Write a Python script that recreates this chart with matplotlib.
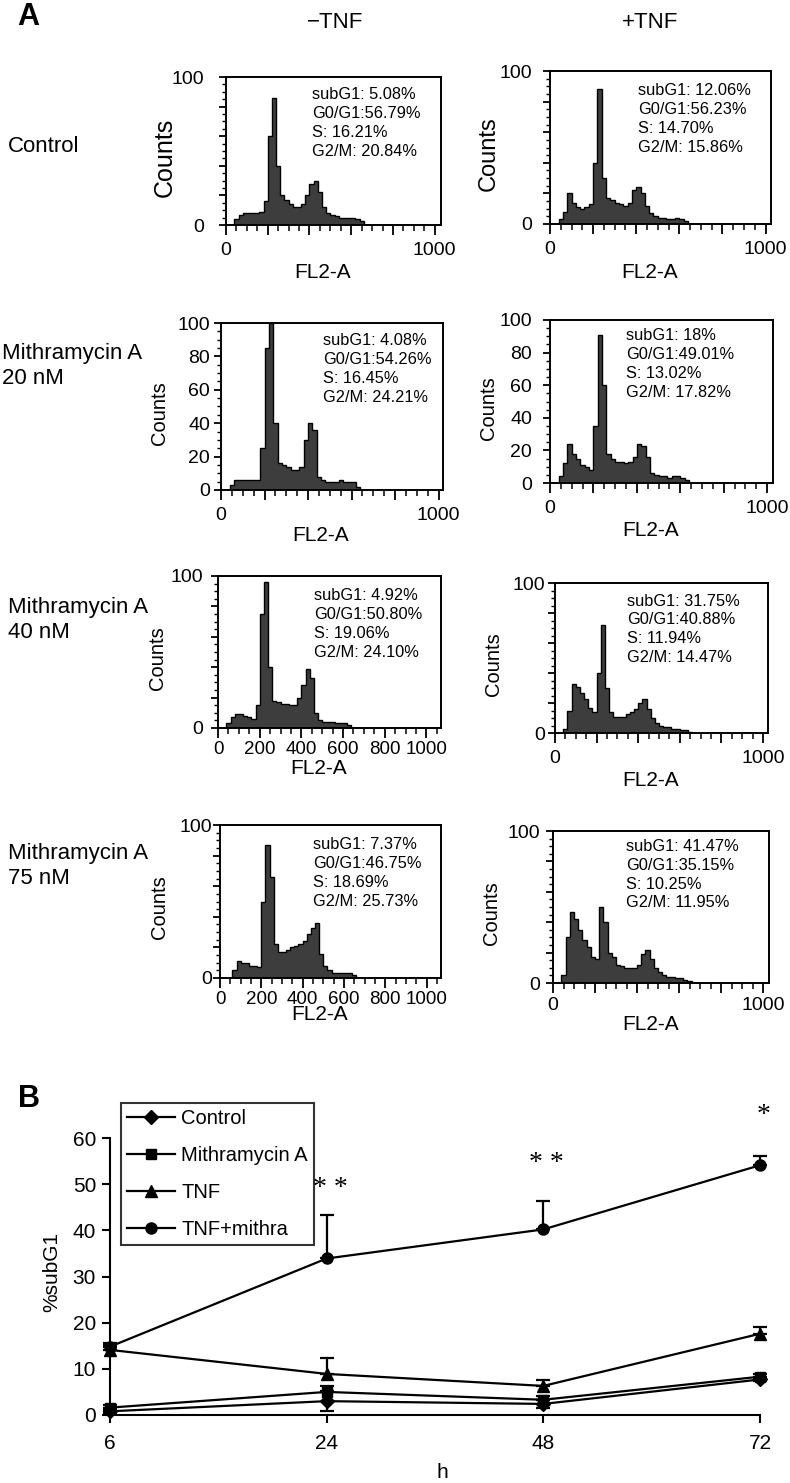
import numpy as np
import matplotlib
matplotlib.use('Agg')
import matplotlib.pyplot as plt
from matplotlib.ticker import MultipleLocator, FuncFormatter
from matplotlib.lines import Line2D

plt.rcParams['font.family'] = ['Liberation Sans', 'DejaVu Sans']

W, H = 790, 1483

# ---- panel A: DNA content histograms (counts per 20-unit FL2-A bin, 0..680) ----
bin_edges = np.arange(0, 700, 20)

ctrl_minus = [0, 0, 4, 7, 8, 8, 8, 8, 9, 16, 60, 86, 40, 20, 17, 14, 12, 12, 14, 20,
              28, 30, 22, 12, 8, 7, 6, 5, 5, 5, 5, 4, 3, 0]
ctrl_plus = [0, 0, 3, 8, 20, 14, 11, 10, 11, 13, 40, 88, 30, 17, 16, 14, 13, 12, 14, 22,
             24, 20, 12, 7, 5, 4, 4, 3, 3, 4, 3, 2, 0, 0]
m20_minus = [0, 0, 3, 6, 6, 6, 6, 6, 6, 25, 85, 100, 40, 16, 15, 14, 12, 12, 14, 30,
             40, 36, 8, 6, 5, 5, 5, 6, 5, 5, 5, 2, 0, 0]
m20_plus = [0, 0, 4, 12, 24, 18, 15, 11, 10, 8, 35, 91, 60, 18, 15, 13, 13, 12, 13, 16,
            24, 23, 16, 6, 5, 4, 4, 3, 4, 4, 3, 2, 0, 0]
m40_minus = [0, 0, 3, 7, 9, 9, 8, 7, 6, 15, 75, 96, 40, 18, 17, 16, 16, 15, 15, 20,
             28, 39, 33, 10, 5, 4, 4, 4, 3, 3, 3, 2, 0, 0]
m40_plus = [0, 0, 3, 15, 33, 31, 27, 23, 17, 14, 40, 72, 30, 14, 11, 11, 11, 13, 14, 16,
            20, 23, 16, 10, 7, 5, 4, 4, 3, 3, 2, 2, 1, 0]
m75_minus = [0, 0, 0, 5, 11, 10, 10, 8, 8, 7, 50, 87, 66, 22, 17, 17, 18, 20, 21, 22,
             24, 29, 33, 36, 16, 8, 5, 3, 3, 3, 3, 3, 2, 0]
m75_plus = [0, 0, 5, 30, 47, 42, 35, 28, 24, 17, 16, 50, 40, 20, 17, 12, 11, 10, 10, 10,
            12, 19, 22, 16, 10, 7, 5, 4, 4, 3, 3, 2, 1, 0]

stats_text = [
    'subG1: 5.08%\nG0/G1:56.79%\nS: 16.21%\nG2/M: 20.84%',
    'subG1: 12.06%\nG0/G1:56.23%\nS: 14.70%\nG2/M: 15.86%',
    'subG1: 4.08%\nG0/G1:54.26%\nS: 16.45%\nG2/M: 24.21%',
    'subG1: 18%\nG0/G1:49.01%\nS: 13.02%\nG2/M: 17.82%',
    'subG1: 4.92%\nG0/G1:50.80%\nS: 19.06%\nG2/M: 24.10%',
    'subG1: 31.75%\nG0/G1:40.88%\nS: 11.94%\nG2/M: 14.47%',
    'subG1: 7.37%\nG0/G1:46.75%\nS: 18.69%\nG2/M: 25.73%',
    'subG1: 41.47%\nG0/G1:35.15%\nS: 10.25%\nG2/M: 11.95%',
]
hist_counts = [ctrl_minus, ctrl_plus, m20_minus, m20_plus,
               m40_minus, m40_plus, m75_minus, m75_plus]

row_labels = ['Control', 'Mithramycin A\n20 nM', 'Mithramycin A\n40 nM', 'Mithramycin A\n75 nM']
col_labels = ['\u2212TNF', '+TNF']

# ---- panel B: %subG1 over time ----
hours = ['6', '24', '48', '72']
ctrl = [0.8, 3.0, 2.4, 7.7]
ctrl_err = [0.3, 2.1, 0.8, 0.4]
mith = [1.6, 5.0, 3.3, 8.3]
mith_err = [0.5, 1.3, 0.8, 0.6]
tnf = [14.1, 8.9, 6.3, 17.6]
tnf_err = [1.1, 3.5, 1.2, 1.5]
combo = [14.8, 33.9, 40.2, 54.1]
combo_err = [0.8, 9.4, 6.1, 2.0]
signif = ['', '* *', '* *', '*']


def frac(x0, x1, y0, y1):
    return [x0 / W, 1 - y1 / H, (x1 - x0) / W, (y1 - y0) / H]


fig = plt.figure(figsize=(W / 100, H / 100), dpi=100)

# layout of the 8 histogram boxes (pixels): x0, x1, y0, y1, xmax, stats x, stats y,
# all y labels, all x labels, x tick pad, x tick size, y tick pad, FL2-A offset, Counts size
layout = [
    (226, 441, 77, 225, 1030, 0.40, 0.93, False, False, 5, 14, 11, 47, 18),
    (550, 771, 71, 224, 1025, 0.40, 0.92, False, False, 5, 14, 8, 48, 17),
    (221, 443, 323, 490, 1020, 0.46, 0.94, True, False, 5, 14, 3, 46, 14.5),
    (550, 773, 320, 483, 1027, 0.34, 0.95, True, False, 5, 14, 8, 47, 14.5),
    (218, 441, 576, 728, 1070, 0.43, 0.92, False, True, 2, 13.5, 6, 40, 14.5),
    (555, 768, 583, 733, 1024, 0.34, 0.93, False, False, 5, 14, 2, 47, 14.5),
    (220, 441, 825, 978, 1070, 0.42, 0.92, False, True, 2, 13.5, 1, 37, 14.5),
    (553, 769, 831, 983, 1028, 0.34, 0.95, False, False, 3, 14, 4, 42, 14.5),
]

for counts, stats, lay in zip(hist_counts, stats_text, layout):
    x0, x1, y0, y1, xmax, tx, ty, yall, xall, pad, tsize, ypad, lab_off, csize = lay
    ax = fig.add_axes(frac(x0, x1, y0, y1))
    ax.stairs(counts, bin_edges, fill=True, color='#3d3d3d', lw=0)
    ax.stairs(counts, bin_edges, color='black', lw=1.0)
    ax.set_xlim(0, xmax)
    ax.set_ylim(0, 100)
    ax.xaxis.set_major_locator(MultipleLocator(200))
    ax.xaxis.set_minor_locator(MultipleLocator(50))
    ax.yaxis.set_major_locator(MultipleLocator(20))
    ax.yaxis.set_minor_locator(MultipleLocator(5))
    if xall:
        ax.xaxis.set_major_formatter(FuncFormatter(lambda v, p: f'{v:.0f}'))
    else:
        ax.xaxis.set_major_formatter(FuncFormatter(lambda v, p: f'{v:.0f}' if v in (0, 1000) else ''))
    if yall:
        ax.yaxis.set_major_formatter(FuncFormatter(lambda v, p: f'{v:.0f}'))
    else:
        ax.yaxis.set_major_formatter(FuncFormatter(lambda v, p: f'{v:.0f}' if v in (0, 100) else ''))
    for s in ax.spines.values():
        s.set_linewidth(1.4)
    ax.tick_params(axis='x', which='major', direction='out', length=7, width=1.3,
                   labelsize=tsize, pad=pad)
    ax.tick_params(axis='x', which='minor', direction='out', length=4, width=1.1)
    ax.tick_params(axis='y', which='major', direction='out', length=5, width=1.3,
                   labelsize=14, pad=ypad)
    ax.tick_params(axis='y', which='minor', direction='out', length=3, width=1.0)
    ax.text(tx, ty, stats, transform=ax.transAxes, ha='left', va='top',
            fontsize=11.8, linespacing=1.33)
    hpx = y1 - y0
    ax.text(0.45, -lab_off / hpx, 'FL2-A', transform=ax.transAxes,
            ha='center', va='center', fontsize=15)
    ax.text(-61 / (x1 - x0), 0.46, 'Counts', transform=ax.transAxes, rotation=90,
            ha='center', va='center', fontsize=csize)

# column and row headers
fig.text(335 / W, 1 - 23 / H, col_labels[0], ha='center', va='center', fontsize=16)
fig.text(650 / W, 1 - 23 / H, col_labels[1], ha='center', va='center', fontsize=16)
row_pos = [(8, 146), (2, 366), (8, 620), (8, 866)]
for lab, (rx, ry) in zip(row_labels, row_pos):
    fig.text(rx / W, 1 - ry / H, lab, ha='left', va='center', fontsize=16, linespacing=1.3)

fig.text(17 / W, 1 - 17 / H, 'A', ha='left', va='center', fontsize=22, fontweight='bold')
fig.text(18 / W, 1 - 1099 / H, 'B', ha='left', va='center', fontsize=22, fontweight='bold')

# ---- panel B ----
axb = fig.add_axes(frac(110, 760, 1138, 1415))
xpos = np.arange(len(hours))
series = [
    (combo, combo_err, 'o', 8, False),
    (tnf, tnf_err, '^', 9, False),
    (mith, mith_err, 's', 7.5, False),
    (ctrl, ctrl_err, 'D', 7, True),
]
for vals, err, mk, ms, both in series:
    lower = err if both else [0] * len(err)
    cont = axb.errorbar(xpos, vals, yerr=[lower, err], fmt='-', marker=mk, ms=ms,
                        color='black', lw=1.6, elinewidth=1.6, capsize=5, capthick=1.6)
    cont[0].set_clip_on(False)
    for a in cont[1] + cont[2]:
        a.set_clip_on(False)

axb.set_xlim(0, 3)
axb.set_ylim(0, 60)
axb.set_xticks(xpos)
axb.set_xticklabels(hours)
axb.yaxis.set_major_locator(MultipleLocator(10))
axb.spines['top'].set_visible(False)
axb.spines['right'].set_visible(False)
for s in ('left', 'bottom'):
    axb.spines[s].set_linewidth(1.5)
axb.tick_params(axis='both', direction='out', length=6, width=1.5, labelsize=15)
axb.tick_params(axis='x', pad=8)
axb.tick_params(axis='y', pad=4)

star_levels = [0, 49.0, 54.4, 64.8]
for i, (txt, lvl) in enumerate(zip(signif, star_levels)):
    if txt:
        axb.text(xpos[i] + 0.015, lvl, txt, ha='center', va='center', fontsize=20,
                 family=['Liberation Serif', 'DejaVu Serif'], clip_on=False, zorder=10)

fig.text(52 / W, 1 - 1272 / H, '%subG1', rotation=90, ha='center', va='center', fontsize=15)
fig.text(442 / W, 1 - 1473 / H, 'h', ha='center', va='center', fontsize=15)

handles = [
    Line2D([], [], color='black', lw=1.6, marker='D', ms=7),
    Line2D([], [], color='black', lw=1.6, marker='s', ms=7.5),
    Line2D([], [], color='black', lw=1.6, marker='^', ms=9),
    Line2D([], [], color='black', lw=1.6, marker='o', ms=8),
]
leg = axb.legend(handles, ['Control', 'Mithramycin A', 'TNF', 'TNF+mithra'],
                 loc='upper left', bbox_to_anchor=(121 / W, 1 - 1103 / H),
                 bbox_transform=fig.transFigure, fontsize=14.5, frameon=True,
                 fancybox=False, handlelength=2.4, handletextpad=0.3,
                 labelspacing=0.9, borderpad=0.3, borderaxespad=0)
leg.get_frame().set_edgecolor('black')
leg.get_frame().set_linewidth(1.5)
leg.set_zorder(5)

fig.savefig('out.png', dpi=100)
